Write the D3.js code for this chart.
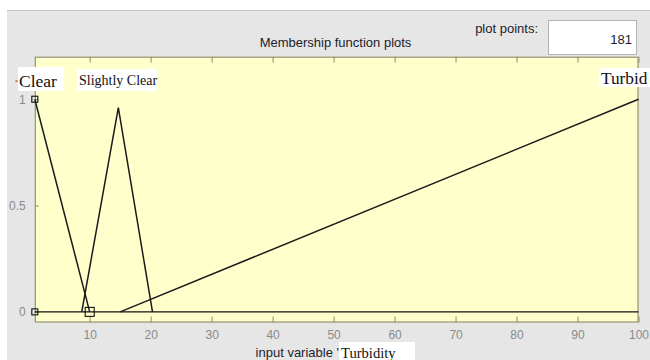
<!DOCTYPE html>
<html>
<head>
<meta charset="utf-8">
<script src="https://cdn.jsdelivr.net/npm/d3@7"></script>
<style>
  html, body { margin: 0; padding: 0; background: #ffffff; }
  svg { display: block; }
</style>
</head>
<body>
<svg id="chart" width="650" height="360"></svg>
<script>
// ---- data ----
const xTicks = [10, 20, 30, 40, 50, 60, 70, 80, 90, 100];
const yTicks = [0, 0.5, 1];
const mfNames = ["Clear", "Slightly Clear", "Turbid"];
const clearX = [1, 10];
const clearY = [1, 0];
const slightlyX = [8.7, 14.7, 20.3];
const slightlyY = [0, 0.96, 0];
const turbidX = [15, 100];
const turbidY = [0, 1];
const xRange = [1, 100];
const yRange = [-0.05, 1.2];
const plotPoints = "181";
const inputVar = "Turbidity";

(function () {
const svg = d3.select("#chart");
const L = 34.8, R = 638.5, T = 56.7, B = 322.5;
const x = d3.scaleLinear().domain(xRange).range([L, R]);
const y = d3.scaleLinear().domain(yRange).range([B, T]);

// panel background
svg.append("rect").attr("x", 7).attr("y", 10).attr("width", 643).attr("height", 350).attr("fill", "#e6e6e6");
svg.append("line").attr("x1", 7).attr("x2", 650).attr("y1", 10.5).attr("y2", 10.5).attr("stroke", "#c4c4c4");

// plot area
svg.append("rect").attr("x", L).attr("y", T).attr("width", R - L).attr("height", B - T).attr("fill", "#ffffcc");

const sans = "'Liberation Sans', Arial, sans-serif";
const serif = "'Liberation Serif', 'Times New Roman', serif";

// axes
const gBottom = svg.append("g").attr("transform", `translate(0,${B})`)
  .call(d3.axisBottom(x).tickValues(xTicks).tickSizeInner(-6).tickSizeOuter(0).tickPadding(12));
const gTop = svg.append("g").attr("transform", `translate(0,${T})`)
  .call(d3.axisTop(x).tickValues(xTicks).tickSizeInner(-6).tickSizeOuter(0).tickFormat(""));
const gLeft = svg.append("g").attr("transform", `translate(${L},0)`)
  .call(d3.axisLeft(y).tickValues(yTicks).tickSizeInner(-4).tickSizeOuter(0).tickPadding(9).tickFormat(d3.format("")));
[gBottom, gTop, gLeft].forEach(g => {
  g.select(".domain").remove();
  g.selectAll(".tick line").attr("stroke", "#8c8c6e");
  g.selectAll(".tick text").attr("fill", "#8a8a8a").attr("font-family", sans).attr("font-size", 12);
});
gBottom.selectAll(".tick text").attr("dy", "0.35em").attr("y", 12.5);
// plot frame
svg.append("rect").attr("x", L + 0.5).attr("y", T + 0.5).attr("width", R - L - 1).attr("height", B - T - 1)
  .attr("fill", "none").attr("stroke", "#8f8f7a").attr("stroke-width", 1.2);

// zero line
svg.append("line").attr("x1", x(xRange[0])).attr("x2", x(xRange[1]))
  .attr("y1", y(0)).attr("y2", y(0)).attr("stroke", "#111").attr("stroke-width", 1.3);

// membership functions
const line = d3.line().x(d => x(d[0])).y(d => y(d[1]));
const series = [
  d3.zip(clearX, clearY),
  d3.zip(slightlyX, slightlyY),
  d3.zip(turbidX, turbidY)
];
series.forEach(s => {
  svg.append("path").attr("d", line(s)).attr("fill", "none")
    .attr("stroke", "#1a1a1a").attr("stroke-width", 1.5);
});

// vertex markers of selected MF
const marks = [[1, 1, 6], [1, 0, 6], [10, 0, 9]];
marks.forEach(m => {
  svg.append("rect").attr("x", x(m[0]) - m[2] / 2).attr("y", y(m[1]) - m[2] / 2)
    .attr("width", m[2]).attr("height", m[2]).attr("fill", "none")
    .attr("stroke", "#111").attr("stroke-width", 1.1);
});

// title
svg.append("text").attr("x", 335.5).attr("y", 47).attr("text-anchor", "middle")
  .attr("font-family", sans).attr("font-size", 13).attr("fill", "#1c1c2c").text("Membership function plots");

// plot points
svg.append("text").attr("x", 538).attr("y", 33).attr("text-anchor", "end")
  .attr("font-family", sans).attr("font-size", 13).attr("fill", "#1c1c2c").text("plot points:");
svg.append("rect").attr("x", 548.5).attr("y", 20.5).attr("width", 88).attr("height", 34)
  .attr("fill", "#ffffff").attr("stroke", "#b4b4b4");
svg.append("text").attr("x", 632).attr("y", 43.5).attr("text-anchor", "end")
  .attr("font-family", sans).attr("font-size", 13).attr("fill", "#1c1c2c").text(plotPoints);

// x label
svg.append("text").attr("x", 339).attr("y", 357).attr("text-anchor", "end")
  .attr("font-family", sans).attr("font-size", 13).attr("fill", "#1c1c2c").text("input variable '");

// white label boxes with serif text
function label(bx, by, bw, bh, tx, ty, size, txt) {
  svg.append("rect").attr("x", bx).attr("y", by).attr("width", bw).attr("height", bh).attr("fill", "#ffffff");
  svg.append("text").attr("x", tx).attr("y", ty).attr("font-family", serif)
    .attr("font-size", size).attr("fill", "#111").text(txt);
}
svg.append("rect").attr("x", 15.5).attr("y", 80).attr("width", 2).attr("height", 2).attr("fill", "#c8823c");
label(18, 67, 46, 24, 19, 86.5, 17.5, mfNames[0]);
label(77, 69, 80, 22, 79, 85, 14, mfNames[1]);
label(599, 68, 51, 19, 601, 84, 17.3, mfNames[2]);
label(339, 342, 76, 18, 341, 357.5, 14.6, inputVar);
})();
</script>
</body>
</html>
